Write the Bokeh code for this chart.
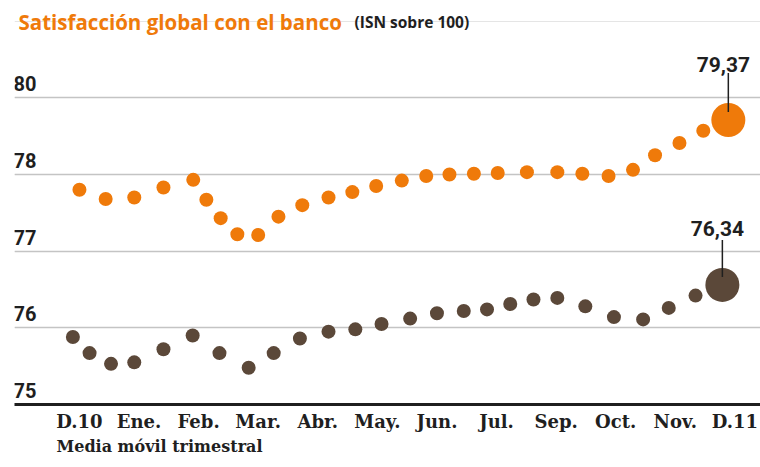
from bokeh.plotting import figure
from bokeh.models import FixedTicker, Grid, Title
from bokeh.core.properties import value
from bokeh.embed import file_html
from bokeh.resources import INLINE

# ---------------- data ----------------
months = ["D.10", "Ene.", "Feb.", "Mar.", "Abr.", "May.", "Jun.",
          "Jul.", "Sep.", "Oct.", "Nov.", "D.11"]

# x in month-slot units (0 = D.10 label, 11 = D.11 label)
orange_x = [0.00, 0.44, 0.92, 1.41, 1.91, 2.13, 2.37, 2.65, 3.00, 3.34,
            3.74, 4.18, 4.58, 4.98, 5.41, 5.82, 6.21, 6.62, 7.02, 7.51,
            8.02, 8.44, 8.88, 9.29, 9.66, 10.07, 10.47, 10.89]
# y in the chart's displayed scale (gridlines 75, 76, 77, 78, "80")
orange_y = [77.80, 77.68, 77.70, 77.83, 77.93, 77.67, 77.43, 77.22, 77.21, 77.45,
            77.60, 77.70, 77.77, 77.85, 77.92, 77.98, 78.00, 78.01, 78.02, 78.03,
            78.03, 78.01, 77.98, 78.06, 78.25, 78.41, 78.57, 78.71]

brown_x = [-0.11, 0.17, 0.53, 0.92, 1.41, 1.90, 2.35, 2.84, 3.26, 3.70,
           4.18, 4.63, 5.07, 5.55, 6.00, 6.45, 6.84, 7.23, 7.62, 8.02,
           8.49, 8.97, 9.46, 9.89, 10.34, 10.79]
brown_y = [75.88, 75.67, 75.53, 75.55, 75.72, 75.90, 75.67, 75.48, 75.67, 75.86,
           75.95, 75.98, 76.05, 76.12, 76.19, 76.22, 76.24, 76.31, 76.37, 76.39,
           76.28, 76.14, 76.11, 76.26, 76.42, 76.56]

y_ticks = [75, 76, 77, 78, 79]
y_tick_labels = ["75", "76", "77", "78", "80"]

orange_last_label = "79,37"
brown_last_label = "76,34"

title_text = "Satisfacción global con el banco"
title_note = "(ISN sobre 100)"
x_note = "Media móvil trimestral"

# ---------------- style ----------------
ORANGE = "#EF7A0A"
BROWN = "#5B4839"
DARK = "#1f1f1f"
GRID = "#c4c4c4"

PX = 76.68                      # pixels per y unit
FRAME_W, FRAME_H = 746, 404
X_LEFT, X_RIGHT = -1.09, 11.43
Y_BOTTOM = 75.0
Y_TOP = Y_BOTTOM + FRAME_H / PX

p = figure(frame_width=FRAME_W, frame_height=FRAME_H,
           x_range=(X_LEFT, X_RIGHT), y_range=(Y_BOTTOM, Y_TOP),
           output_backend="svg", toolbar_location=None,
           y_axis_location=None, min_border_left=14, min_border_right=0,
           min_border_top=0, min_border_bottom=0)
p.outline_line_color = None
p.background_fill_color = "white"
p.border_fill_color = "white"
p.xgrid.visible = False

grid = Grid(dimension=1, ticker=FixedTicker(ticks=y_ticks[1:]),
            grid_line_color=GRID, grid_line_width=1.5)
p.add_layout(grid)

ax = p.xaxis[0]
ax.ticker = FixedTicker(ticks=list(range(len(months))))
ax.major_label_overrides = {i: m for i, m in enumerate(months)}
ax.major_tick_line_color = None
ax.minor_tick_line_color = None
ax.axis_line_color = DARK
ax.axis_line_width = 3
ax.major_label_standoff = 0
ax.major_label_text_font = "DejaVu Serif"
ax.major_label_text_font_style = "bold"
ax.major_label_text_font_size = "18px"
ax.major_label_text_color = DARK

# note under the axis
p.add_layout(Title(text=x_note, align="left", offset=42, standoff=0,
                   text_font="DejaVu Serif", text_font_style="bold",
                   text_font_size="16px", text_color=DARK), "below")

# y labels above gridlines
p.text(x=[X_LEFT] * len(y_ticks), y=y_ticks, text=y_tick_labels,
       text_font=value("Roboto"), text_font_style="bold",
       text_font_size="20px", text_color=DARK,
       text_align="left", text_baseline="middle", x_offset=-1, y_offset=-14)

# dots
p.scatter(orange_x[:-1], orange_y[:-1], size=14, color=ORANGE, line_color=None)
p.scatter(orange_x[-1:], orange_y[-1:], size=34, color=ORANGE, line_color=None)
p.scatter(brown_x[:-1], brown_y[:-1], size=14, color=BROWN, line_color=None)
p.scatter(brown_x[-1:], brown_y[-1:], size=34, color=BROWN, line_color=None)

# leader lines
p.segment(x0=[orange_x[-1]], y0=[orange_y[-1] + 8 / PX],
          x1=[orange_x[-1]], y1=[orange_y[-1] + 47 / PX],
          line_color=DARK, line_width=1.5)
p.segment(x0=[brown_x[-1]], y0=[brown_y[-1] + 8 / PX],
          x1=[brown_x[-1]], y1=[brown_y[-1] + 45 / PX],
          line_color=DARK, line_width=1.5)

p.text(x=[orange_x[-1]], y=[orange_y[-1]], text=[orange_last_label],
       text_font=value("Roboto"), text_font_style="bold", text_font_size="21px",
       text_color=DARK, text_align="center", text_baseline="middle",
       x_offset=-5, y_offset=-56)
p.text(x=[brown_x[-1]], y=[brown_y[-1]], text=[brown_last_label],
       text_font=value("Roboto"), text_font_style="bold", text_font_size="21px",
       text_color=DARK, text_align="center", text_baseline="middle",
       x_offset=-5, y_offset=-56)

# title
p.text(x=[X_LEFT], y=[Y_TOP], text=[title_text],
       text_font=value("Open Sans"), text_font_style="bold", text_font_size="20.5px",
       text_color=ORANGE, text_align="left", text_baseline="alphabetic",
       x_offset=4, y_offset=21)
p.text(x=[X_LEFT], y=[Y_TOP], text=[title_note],
       text_font=value("Open Sans"), text_font_style="bold", text_font_size="15.5px",
       text_color=DARK, text_align="left", text_baseline="alphabetic",
       x_offset=340, y_offset=21)

open("out.html", "w").write(file_html(p, INLINE))
